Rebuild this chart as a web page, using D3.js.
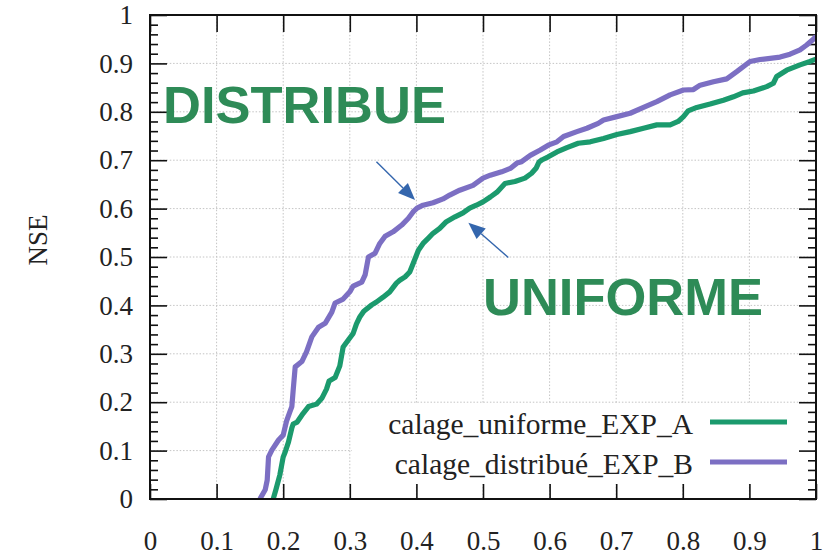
<!DOCTYPE html>
<html>
<head>
<meta charset="utf-8">
<script src="https://cdn.jsdelivr.net/npm/d3@7"></script>
<style>
  html, body { margin: 0; padding: 0; background: #fff; }
  svg { display: block; }
  .tick text { font-family: "Liberation Serif", "Times New Roman", serif; fill: #222; }
</style>
</head>
<body>
<svg id="chart" width="837" height="557"></svg>
<script>
// NSE curves, sorted per basin: x = cumulative fraction, y = NSE
const uniformeX = [0.185,0.189,0.195,0.200,0.203,0.208,0.213,0.215,0.221,0.230,0.238,0.250,0.258,0.265,0.269,0.278,0.285,0.290,0.298,0.305,0.310,0.315,0.321,0.333,0.340,0.350,0.360,0.370,0.375,0.383,0.390,0.395,0.403,0.410,0.418,0.425,0.435,0.445,0.458,0.470,0.480,0.490,0.500,0.511,0.521,0.533,0.548,0.563,0.573,0.580,0.584,0.589,0.598,0.611,0.626,0.643,0.661,0.681,0.701,0.721,0.741,0.761,0.781,0.793,0.801,0.808,0.821,0.841,0.861,0.876,0.890,0.906,0.926,0.936,0.941,0.956,0.976,0.991,1.000];
const uniformeY = [0.000,0.019,0.050,0.087,0.097,0.118,0.147,0.155,0.159,0.177,0.191,0.196,0.208,0.227,0.244,0.251,0.275,0.314,0.329,0.342,0.362,0.376,0.388,0.401,0.407,0.417,0.428,0.446,0.452,0.459,0.469,0.486,0.514,0.528,0.539,0.549,0.559,0.573,0.583,0.591,0.601,0.607,0.614,0.624,0.634,0.652,0.656,0.663,0.673,0.684,0.696,0.701,0.707,0.717,0.726,0.735,0.738,0.745,0.753,0.759,0.766,0.773,0.773,0.780,0.790,0.802,0.809,0.816,0.824,0.831,0.839,0.843,0.852,0.859,0.873,0.886,0.897,0.904,0.909];

const distribueX = [0.165,0.173,0.176,0.178,0.183,0.193,0.200,0.205,0.210,0.213,0.215,0.218,0.228,0.235,0.243,0.253,0.263,0.273,0.278,0.290,0.300,0.305,0.318,0.323,0.328,0.338,0.345,0.353,0.365,0.378,0.388,0.395,0.401,0.410,0.425,0.440,0.450,0.465,0.485,0.500,0.511,0.528,0.541,0.551,0.558,0.571,0.586,0.598,0.611,0.621,0.641,0.656,0.673,0.681,0.701,0.721,0.741,0.761,0.781,0.801,0.816,0.826,0.846,0.866,0.881,0.901,0.916,0.946,0.961,0.976,0.986,0.996,1.000];
const distribueY = [0.000,0.019,0.039,0.087,0.101,0.122,0.132,0.161,0.180,0.191,0.225,0.273,0.284,0.304,0.335,0.355,0.363,0.386,0.405,0.413,0.428,0.440,0.448,0.463,0.500,0.508,0.528,0.543,0.552,0.566,0.580,0.593,0.601,0.607,0.612,0.620,0.628,0.638,0.648,0.663,0.669,0.676,0.683,0.694,0.697,0.710,0.721,0.731,0.738,0.749,0.759,0.766,0.776,0.783,0.790,0.797,0.809,0.821,0.835,0.845,0.846,0.855,0.862,0.868,0.883,0.904,0.908,0.913,0.919,0.928,0.938,0.950,0.956];

const xTickValues = [0, 0.1, 0.2, 0.3, 0.4, 0.5, 0.6, 0.7, 0.8, 0.9, 1];
const xTickLabels = ["0", "0.1", "0.2", "0.3", "0.4", "0.5", "0.6", "0.7", "0.8", "0.9", "1"];
const yTickValues = [0, 0.1, 0.2, 0.3, 0.4, 0.5, 0.6, 0.7, 0.8, 0.9, 1];
const yTickLabels = ["0", "0.1", "0.2", "0.3", "0.4", "0.5", "0.6", "0.7", "0.8", "0.9", "1"];
const yMinorValues = d3.range(0, 51).map(i => i / 50).filter(v => Math.round(v * 50) % 5 !== 0);

const seriesNames = ["calage_uniforme_EXP_A", "calage_distribué_EXP_B"];
const seriesColors = ["#1b9a6d", "#7c6fc3"];

// callout labels and their arrows: [fromX, fromY, toX, toY]
const calloutTexts = ["DISTRIBUE", "UNIFORME"];
const calloutPos = [[0.0195, 0.777], [0.500, 0.380]];
const arrows = [[0.340, 0.697, 0.398, 0.618], [0.538, 0.499, 0.478, 0.571]];

const W = 837, H = 557;
const L = 150, R = 816, T = 15, B = 499;

const svg = d3.select("#chart");
const x = d3.scaleLinear().domain([0, 1]).range([L, R]);
const y = d3.scaleLinear().domain([0, 1]).range([B, T]);

const serif = '"Liberation Serif", "Times New Roman", serif';
const sans = '"Liberation Sans", Arial, sans-serif';

// dotted grid
const grid = svg.append("g").attr("stroke", "#c4c4c4").attr("stroke-width", 1).attr("stroke-dasharray", "1.5,1.8");
grid.selectAll("line.gx").data(xTickValues.slice(1, -1)).join("line")
  .attr("x1", d => x(d)).attr("x2", d => x(d)).attr("y1", T).attr("y2", B);
grid.selectAll("line.gy").data(yTickValues.slice(1, -1)).join("line")
  .attr("x1", L).attr("x2", R).attr("y1", d => y(d)).attr("y2", d => y(d));

// key area hides the grid behind it
svg.append("rect").attr("x", 352).attr("y", 403).attr("width", 462).attr("height", 81).attr("fill", "#fff");

// axes
function styleAxis(g) {
  g.select(".domain").remove();
  g.selectAll(".tick line").attr("stroke", "#111").attr("stroke-width", 1.6);
  g.selectAll(".tick text").attr("font-size", 27);
}

svg.append("g").attr("transform", `translate(0,${B})`)
  .call(d3.axisBottom(x).tickValues(xTickValues).tickSizeInner(-15).tickSizeOuter(0).tickPadding(32)
    .tickFormat((d, i) => xTickLabels[i]))
  .call(styleAxis);

svg.append("g").attr("transform", `translate(0,${T})`)
  .call(d3.axisTop(x).tickValues(xTickValues).tickSizeInner(-17).tickSizeOuter(0).tickFormat(""))
  .call(styleAxis);

svg.append("g").attr("transform", `translate(${L},0)`)
  .call(d3.axisLeft(y).tickValues(yTickValues).tickSizeInner(-17).tickSizeOuter(0).tickPadding(17)
    .tickFormat((d, i) => yTickLabels[i]))
  .call(styleAxis);

svg.append("g").attr("transform", `translate(${L},0)`)
  .call(d3.axisLeft(y).tickValues(yMinorValues).tickSizeInner(-8).tickSizeOuter(0).tickFormat(""))
  .call(styleAxis);

svg.append("g").attr("transform", `translate(${R},0)`)
  .call(d3.axisRight(y).tickValues(yTickValues).tickSizeInner(-17).tickSizeOuter(0).tickFormat(""))
  .call(styleAxis);

svg.append("g").attr("transform", `translate(${R},0)`)
  .call(d3.axisRight(y).tickValues(yMinorValues).tickSizeInner(-8).tickSizeOuter(0).tickFormat(""))
  .call(styleAxis);

// y axis title
svg.append("text")
  .attr("transform", "translate(47,240) rotate(-90)")
  .attr("text-anchor", "middle")
  .attr("font-family", serif).attr("font-size", 27).attr("fill", "#222")
  .text("NSE");

// curves
const clip = svg.append("clipPath").attr("id", "plotclip");
clip.append("rect").attr("x", L).attr("y", T).attr("width", R - L).attr("height", B - T);

const line = d3.line().x(d => x(d[0])).y(d => y(d[1]));
const series = [
  d3.zip(uniformeX, uniformeY),
  d3.zip(distribueX, distribueY)
];
svg.append("g").attr("clip-path", "url(#plotclip)")
  .selectAll("path").data(series).join("path")
  .attr("d", line)
  .attr("fill", "none")
  .attr("stroke", (d, i) => seriesColors[i])
  .attr("stroke-width", 5.2)
  .attr("stroke-linejoin", "round")
  .attr("stroke-linecap", "butt");

// frame
svg.append("rect").attr("x", L).attr("y", T).attr("width", R - L).attr("height", B - T)
  .attr("fill", "none").attr("stroke", "#111").attr("stroke-width", 2);

// key
const key = svg.append("g");
const keyY = [434, 474];
seriesNames.forEach((name, i) => {
  key.append("text")
    .attr("x", 693).attr("y", keyY[i])
    .attr("text-anchor", "end")
    .attr("font-family", serif).attr("font-size", 29.5).attr("fill", "#222")
    .text(name);
  key.append("line")
    .attr("x1", 710).attr("x2", 787)
    .attr("y1", keyY[i] - 12).attr("y2", keyY[i] - 12)
    .attr("stroke", seriesColors[i]).attr("stroke-width", 5);
});

// callouts
svg.append("g").selectAll("text").data(calloutTexts).join("text")
  .attr("x", (d, i) => x(calloutPos[i][0]))
  .attr("y", (d, i) => y(calloutPos[i][1]))
  .attr("font-family", sans).attr("font-weight", "bold").attr("font-size", 52.5)
  .attr("fill", "#2e8b57")
  .text(d => d);

const arrowColor = "#3466ad";
const ag = svg.append("g");
arrows.forEach(a => {
  const x1 = x(a[0]), y1 = y(a[1]), x2 = x(a[2]), y2 = y(a[3]);
  const ang = Math.atan2(y2 - y1, x2 - x1);
  const hl = 17, hw = 7;
  const bx = x2 - hl * Math.cos(ang), by = y2 - hl * Math.sin(ang);
  ag.append("line").attr("x1", x1).attr("y1", y1).attr("x2", bx).attr("y2", by)
    .attr("stroke", arrowColor).attr("stroke-width", 1.4);
  const px = -Math.sin(ang), py = Math.cos(ang);
  ag.append("path")
    .attr("d", `M${x2},${y2}L${bx + hw * px},${by + hw * py}L${bx - hw * px},${by - hw * py}Z`)
    .attr("fill", arrowColor);
});
</script>
</body>
</html>
